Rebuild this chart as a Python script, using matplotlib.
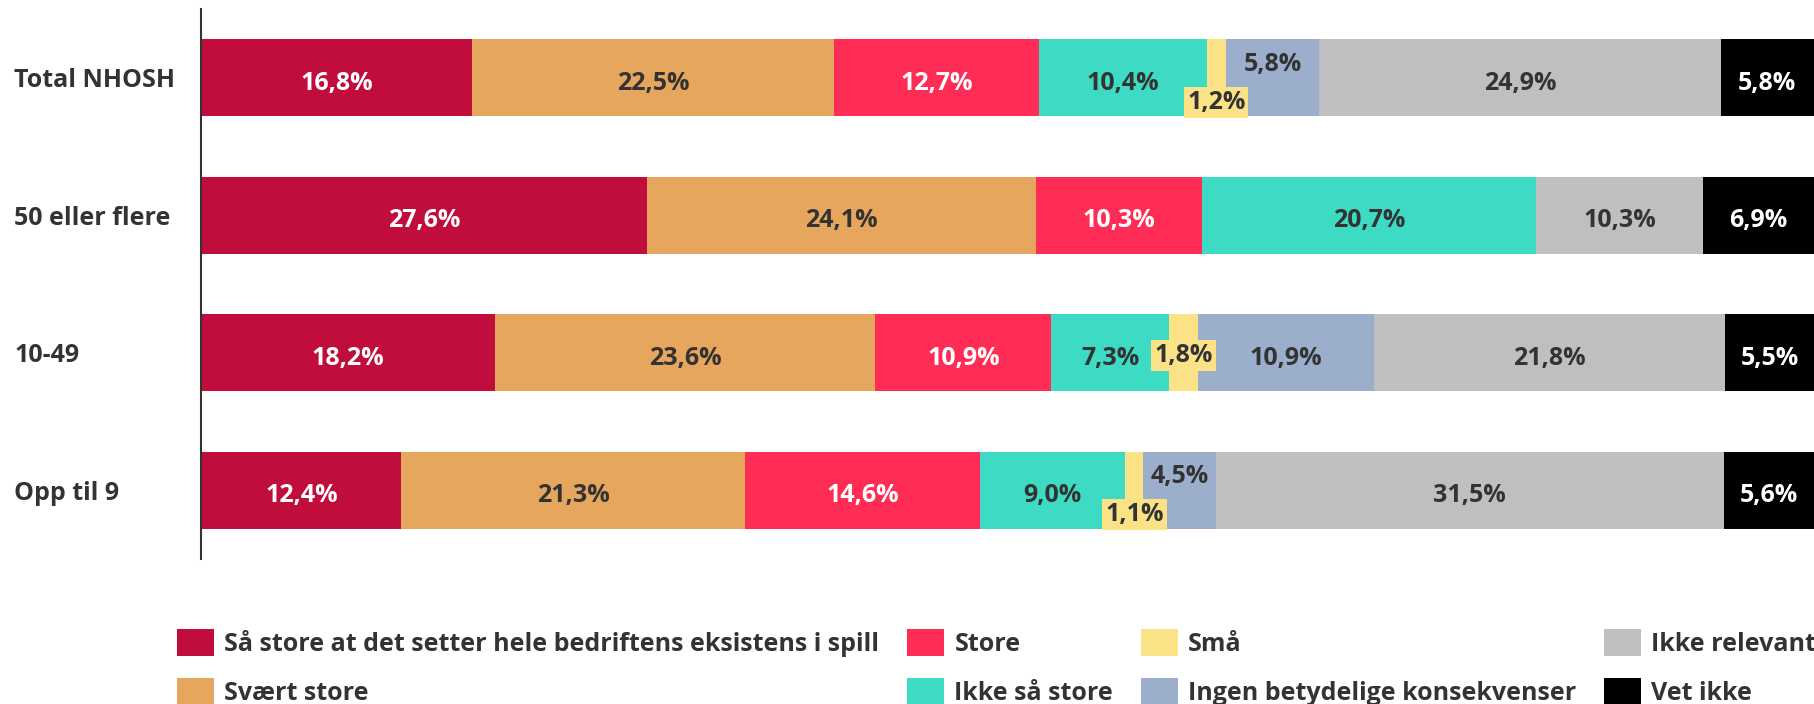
import matplotlib
matplotlib.use("Agg")
import matplotlib.pyplot as plt
import numpy as np

plt.rcParams['font.family'] = ['Open Sans', 'DejaVu Sans']

# data
groups = ["Total NHOSH", "50 eller flere", "10-49", "Opp til 9"]
series = ["Så store at det setter hele bedriftens eksistens i spill", "Svært store",
          "Store", "Ikke så store", "Små", "Ingen betydelige konsekvenser",
          "Ikke relevant", "Vet ikke"]
so_store = [16.8, 27.6, 18.2, 12.4]
svaert_store = [22.5, 24.1, 23.6, 21.3]
store = [12.7, 10.3, 10.9, 14.6]
ikke_saa_store = [10.4, 20.7, 7.3, 9.0]
smaa = [1.2, 0.0, 1.8, 1.1]
ingen = [5.8, 0.0, 10.9, 4.5]
ikke_relevant = [24.9, 10.3, 21.8, 31.5]
vet_ikke = [5.8, 6.9, 5.5, 5.6]

values = [so_store, svaert_store, store, ikke_saa_store, smaa, ingen, ikke_relevant, vet_ikke]
colors = ["#C00D3B", "#E6A65E", "#FF2D55", "#3DDBC3", "#FCE287", "#9BAFCC", "#BFBFBF", "#000000"]
txt_colors = ["white", "#333333", "white", "#333333", "#333333", "#333333", "#333333", "white"]

# every row is drawn as a 100 % bar
totals = np.sum(np.array(values), axis=0)

fig = plt.figure(figsize=(18.14, 7.04), dpi=100)
ax = fig.add_axes([0.111, 0.206, 0.889, 0.781])

y = np.arange(len(groups))
left = np.zeros(len(groups))
for i, (name, vals) in enumerate(zip(series, values)):
    vals = np.array(vals)
    widths = vals / totals * 100
    ax.barh(y, widths, left=left, height=0.56, color=colors[i], label=name)
    for j, v in enumerate(vals):
        if v <= 0:
            continue
        cx = left[j] + widths[j] / 2
        cy = y[j]
        lbl = f"{v:.1f}%".replace('.', ',')
        kw = dict(ha='center', va='center', fontsize=18, fontweight='bold', color=txt_colors[i])
        if i == 4:
            # small "Små" values get a yellow box
            dy = 0.02 if j == 2 else 0.18
            ax.text(cx, cy + dy, lbl, bbox=dict(boxstyle='square,pad=0.12', fc=colors[4], ec='none'), **kw)
        elif i == 5 and v < 6:
            ax.text(cx, cy - 0.1, lbl, **kw)
        else:
            ax.text(cx, cy + 0.04, lbl, **kw)
    left += widths

ax.set_xlim(0, 100)
ax.set_ylim(3.5, -0.5)
ax.set_yticks(y)
ax.set_yticklabels(groups, fontsize=18, fontweight='bold', color='#333333')
ax.tick_params(axis='y', length=0, pad=0)
for lab in ax.get_yticklabels():
    lab.set_horizontalalignment('left')
    lab.set_x(-0.116)
ax.set_xticks([])
for s in ['top', 'right', 'bottom']:
    ax.spines[s].set_visible(False)
ax.spines['left'].set_color('#333333')
ax.spines['left'].set_linewidth(1.5)

leg = fig.legend(loc='upper left', bbox_to_anchor=(0.092, 0.121), ncol=4, frameon=False,
                 prop={'size': 18, 'weight': 'bold'}, handlelength=1.5, handleheight=1.3,
                 handletextpad=0.4, columnspacing=1.1, labelspacing=0.85, borderaxespad=0)
for t in leg.get_texts():
    t.set_color('#333333')

fig.savefig("out.png", dpi=100)
